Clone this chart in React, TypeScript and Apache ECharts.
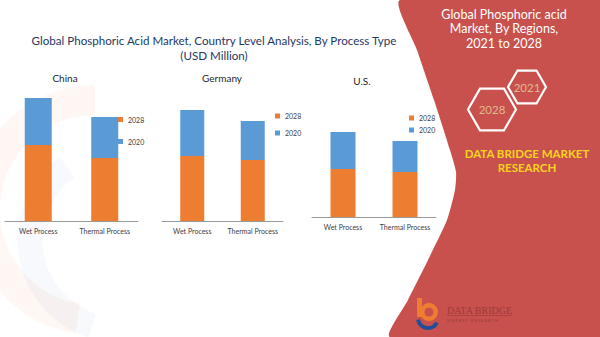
import React, { useEffect, useRef } from "react";
import * as echarts from "echarts";

const categories = ["Wet Process", "Thermal Process"];
const seriesNames = ["2028", "2020"];
const china2028 = [76, 63];
const china2020 = [47, 41];
const germany2028 = [65, 61];
const germany2020 = [46, 39];
const us2028 = [48, 45];
const us2020 = [37, 31];
const countries = ["China", "Germany", "U.S."];

const ORANGE = "#ed7d31";
const BLUE = "#5b9bd5";
const RED = "#c8514d";
const FONT = "Lato, 'Open Sans', sans-serif";

function hexPoints(cx: number, cy: number, r: number) {
  const pts: number[][] = [];
  for (let i = 0; i < 6; i++) {
    const a = (Math.PI / 3) * i;
    pts.push([cx + r * Math.cos(a), cy + r * Math.sin(a)]);
  }
  return pts;
}

export default function App() {
  const ref = useRef<HTMLDivElement>(null);
  useEffect(() => {
    if (!ref.current) return;
    const chart = echarts.init(ref.current, undefined, { renderer: "svg" });
    const grids = [
      { left: 5, width: 133, top: 61, height: 160 },
      { left: 162, width: 121, top: 61, height: 160 },
      { left: 312, width: 124, top: 57, height: 160 },
    ];
    const barWidths = [27, 24, 25];
    const data = [
      [china2028, china2020],
      [germany2028, germany2020],
      [us2028, us2020],
    ];
    const legends = [
      { left: 118, top: 115, itemGap: 13 },
      { left: 275, top: 111.5, itemGap: 8 },
      { left: 409, top: 113.5, itemGap: 3 },
    ];
    const series: any[] = [];
    data.forEach((pair, gi) => {
      pair.forEach((vals, si) => {
        series.push({
          type: "bar",
          name: seriesNames[si],
          xAxisIndex: gi,
          yAxisIndex: gi,
          stack: "s" + gi,
          barWidth: barWidths[gi],
          data: vals,
          itemStyle: { color: si === 0 ? ORANGE : BLUE },
        });
      });
    });
    const titleCenters = [
      [65, 78],
      [222, 78],
      [362, 81],
    ];
    chart.setOption({
      animation: false,
      backgroundColor: "#ffffff",
      grid: grids,
      xAxis: grids.map((_, i) => ({
        type: "category",
        gridIndex: i,
        data: categories,
        axisLine: { lineStyle: { color: "#9a9a9a", width: 1 } },
        axisTick: { show: false },
        axisLabel: { fontSize: 7, color: "#404040", margin: 6, fontFamily: FONT, interval: 0 },
      })),
      yAxis: grids.map((_, i) => ({
        type: "value",
        gridIndex: i,
        min: 0,
        max: 160,
        show: false,
        splitLine: { show: false },
      })),
      legend: legends.map((l) => ({
        orient: "vertical",
        left: l.left,
        top: l.top,
        itemGap: l.itemGap,
        itemWidth: 5,
        itemHeight: 5,
        padding: 0,
        icon: "rect",
        data: seriesNames,
        selectedMode: false,
        textStyle: { fontSize: 7, color: "#404040", lineHeight: 9, fontFamily: FONT },
      })),
      series,
      graphic: [
        // faint watermark shapes
        {
          type: "arc",
          z: -10,
          shape: { cx: 95, cy: 210, r: 110, startAngle: Math.PI * 0.55, endAngle: Math.PI * 1.5 },
          style: { stroke: "rgba(237,125,49,0.06)", lineWidth: 30, fill: "none" },
        },
        {
          type: "arc",
          z: -10,
          shape: { cx: 120, cy: 240, r: 90, startAngle: Math.PI * 0.6, endAngle: Math.PI * 1.3 },
          style: { stroke: "rgba(91,130,190,0.05)", lineWidth: 25, fill: "none" },
        },
        // red panel
        {
          type: "polygon",
          z: 1,
          shape: {
            points: [
              [400, 0],
              [417, 50],
              [434, 100],
              [450, 150],
              [456, 172],
              [455, 190],
              [447, 220],
              [428, 260],
              [408, 300],
              [390, 337],
              [600, 337],
              [600, 0],
            ],
            smooth: 0.2,
          },
          style: { fill: RED },
        },
        // main title
        {
          type: "text",
          z: 5,
          x: 214,
          y: 40,
          style: {
            text: "Global Phosphoric Acid Market, Country Level Analysis, By Process Type",
            fontSize: 11.6,
            fontFamily: FONT,
            fill: "#1f3864",
            textAlign: "center",
            textVerticalAlign: "middle",
          },
        },
        {
          type: "text",
          z: 5,
          x: 214,
          y: 55,
          style: {
            text: "(USD Million)",
            fontSize: 11.6,
            fontFamily: FONT,
            fill: "#1f3864",
            textAlign: "center",
            textVerticalAlign: "middle",
          },
        },
        ...countries.map((c, i) => ({
          type: "text",
          z: 5,
          x: titleCenters[i][0],
          y: titleCenters[i][1],
          style: {
            text: c,
            fontSize: 10,
            fontFamily: FONT,
            fill: "#262626",
            textAlign: "center",
            textVerticalAlign: "middle",
          },
        })),
        // right panel texts
        ...["Global Phosphoric acid", "Market, By Regions,", "2021 to 2028"].map((t, i) => ({
          type: "text",
          z: 5,
          x: 504,
          y: 14 + i * 14.5,
          style: {
            text: t,
            fontSize: 12.5,
            fontFamily: FONT,
            fill: "#ffffff",
            textAlign: "center",
            textVerticalAlign: "middle",
          },
        })),
        {
          type: "polygon",
          z: 5,
          shape: { points: hexPoints(527, 87, 19) },
          style: { fill: "none", stroke: "#ffffff", lineWidth: 2.2 },
        },
        {
          type: "polygon",
          z: 5,
          shape: { points: hexPoints(492, 109.5, 24) },
          style: { fill: "none", stroke: "#ffffff", lineWidth: 2.2 },
        },
        {
          type: "text",
          z: 6,
          x: 527,
          y: 87,
          style: { text: "2021", fontSize: 11.5, fontFamily: FONT, fill: "#e2b98f", textAlign: "center", textVerticalAlign: "middle" },
        },
        {
          type: "text",
          z: 6,
          x: 492,
          y: 109.5,
          style: { text: "2028", fontSize: 11.5, fontFamily: FONT, fill: "#e2b98f", textAlign: "center", textVerticalAlign: "middle" },
        },
        ...["DATA BRIDGE MARKET", "RESEARCH"].map((t, i) => ({
          type: "text",
          z: 6,
          x: 527,
          y: 153 + i * 14,
          style: {
            text: t,
            fontSize: 11.5,
            fontWeight: "bold",
            fontFamily: FONT,
            fill: "#f7d321",
            textAlign: "center",
            textVerticalAlign: "middle",
          },
        })),
        // bottom logo
        {
          type: "rect",
          z: 6,
          shape: { x: 417, y: 298, width: 5, height: 19 },
          style: { fill: "#ee7d31" },
        },
        {
          type: "ring",
          z: 6,
          shape: { cx: 429, cy: 312, r: 9, r0: 4.5 },
          style: { fill: "#ee7d31" },
        },
        {
          type: "arc",
          z: 7,
          shape: { cx: 428, cy: 318, r: 10, startAngle: Math.PI * 0.15, endAngle: Math.PI * 0.95 },
          style: { stroke: "#1f4e9a", lineWidth: 4, fill: "none" },
        },
        {
          type: "text",
          z: 6,
          x: 447,
          y: 310,
          style: {
            text: "DATA BRIDGE",
            fontSize: 10,
            fontFamily: "'Liberation Serif', 'DejaVu Serif', serif",
            fill: "#9b3b38",
            textVerticalAlign: "middle",
          },
        },
        {
          type: "line",
          z: 6,
          shape: { x1: 447, y1: 315.5, x2: 512, y2: 315.5 },
          style: { stroke: "#9b3b38", lineWidth: 0.6 },
        },
        {
          type: "text",
          z: 6,
          x: 447,
          y: 320,
          style: {
            text: "M A R K E T   R E S E A R C H",
            fontSize: 4,
            fontFamily: FONT,
            fill: "#9b3b38",
            textVerticalAlign: "middle",
          },
        },
      ],
    });
    return () => chart.dispose();
  }, []);
  return <div ref={ref} style={{ width: 600, height: 337, position: "absolute", left: 0, top: 0 }} />;
}
